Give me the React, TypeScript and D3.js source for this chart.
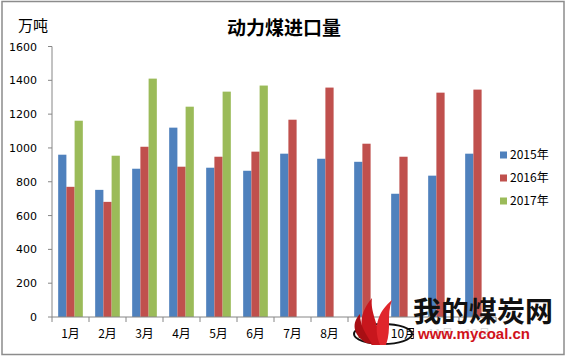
import React, { useEffect } from "react";
import * as d3 from "d3";

const months = ["1月", "2月", "3月", "4月", "5月", "6月", "7月", "8月", "9月", "10月", "11月", "12月"];
const seriesNames = ["2015年", "2016年", "2017年"];
const v2015 = [960, 752, 877, 1120, 883, 865, 966, 936, 918, 729, 836, 966];
const v2016 = [770, 681, 1007, 889, 948, 978, 1167, 1357, 1025, 948, 1327, 1345];
const v2017: (number | null)[] = [1161, 954, 1410, 1244, 1333, 1369, null, null, null, null, null, null];
const yTicks = [0, 200, 400, 600, 800, 1000, 1200, 1400, 1600];
const colors = ["#4F81BD", "#C0504D", "#9BBB59"];

const W = 566;
const H = 357;

export default function App() {
  useEffect(() => {
    document.body.style.margin = "0";
  }, []);

  const x = d3.scaleBand<string>().domain(months).range([52, 496]).paddingInner(0).paddingOuter(0);
  const xSub = d3.scaleBand<string>().domain(seriesNames).range([0, x.bandwidth()]).paddingInner(0).paddingOuter(0.75);
  const y = d3.scaleLinear().domain([0, 1600]).range([317, 46.5]);
  const data = [v2015, v2016, v2017];
  const axisColor = "#868686";
  const numFont = "'DejaVu Sans', Verdana, sans-serif";
  const cjkFont = "'Noto Sans CJK SC', sans-serif";

  const legendY = [155, 178, 201];

  return (
    <svg width={W} height={H} style={{ display: "block", background: "#fff" }}>
      <rect x={2} y={1.5} width={562} height={353} fill="#fff" stroke="#8c8c8c" strokeWidth={1.5} />
      <text x={284} y={35} textAnchor="middle" fontFamily={cjkFont} fontSize={19} fontWeight={700} fill="#000">
        动力煤进口量
      </text>
      <text x={18} y={31} fontFamily={cjkFont} fontSize={15} fill="#000">
        万吨
      </text>

      {data.map((vals, si) =>
        vals.map((v, i) =>
          v == null ? null : (
            <rect
              key={`${si}-${i}`}
              x={(x(months[i]) as number) + (xSub(seriesNames[si]) as number)}
              y={y(v)}
              width={xSub.bandwidth()}
              height={y(0) - y(v)}
              fill={colors[si]}
            />
          )
        )
      )}

      {/* y axis */}
      <line x1={52} x2={52} y1={y(1600)} y2={y(0)} stroke={axisColor} strokeWidth={1} />
      {yTicks.map((t) => (
        <g key={t}>
          <line x1={48} x2={52} y1={y(t)} y2={y(t)} stroke={axisColor} strokeWidth={1} />
          <text x={37} y={y(t) + 4} textAnchor="end" fontFamily={numFont} fontSize={11} fill="#000">
            {t}
          </text>
        </g>
      ))}

      {/* x axis */}
      <line x1={52} x2={496} y1={y(0)} y2={y(0)} stroke={axisColor} strokeWidth={1} />
      {months.map((m) => (
        <line key={"t" + m} x1={x(m) as number} x2={x(m) as number} y1={y(0)} y2={y(0) + 5} stroke={axisColor} />
      ))}
      <line x1={496} x2={496} y1={y(0)} y2={y(0) + 5} stroke={axisColor} />
      {months.map((m) => (
        <text
          key={"l" + m}
          x={(x(m) as number) + x.bandwidth() / 2}
          y={338}
          textAnchor="middle"
          fontFamily={cjkFont}
          fontSize={12}
          fill="#000"
        >
          {m}
        </text>
      ))}

      {/* legend */}
      {seriesNames.map((s, i) => (
        <g key={s}>
          <rect x={500} y={legendY[i] - 3.5} width={7} height={7} fill={colors[i]} />
          <text x={510} y={legendY[i] + 4} fontFamily={cjkFont} fontSize={12} fill="#000">
            {s}
          </text>
        </g>
      ))}

      {/* watermark */}
      <g>
        <rect x={414} y={326} width={146} height={16} fill="#fff" opacity={0.85} />
        <ellipse cx={383} cy={334} rx={29} ry={10} fill="none" stroke="#111" strokeWidth={2} />
        <path d="M372,345 C356,330 360,312 372,298 C370,312 378,322 381,345 Z" fill="#c8161d" />
        <path d="M380,345 C372,325 380,310 392,300 C386,316 392,328 386,345 Z" fill="#e0262c" />
        <path d="M366,343 C352,334 352,322 360,314 C360,326 366,334 372,344 Z" fill="#a80f14" />
        <text x={413} y={322} fontFamily={cjkFont} fontSize={28} fontWeight={700} fill="#111">
          我的煤炭网
        </text>
        <text x={418} y={339} fontFamily="'Liberation Sans', Arial, sans-serif" fontSize={15} fontWeight={700} fill="#d0121b">
          www.mycoal.cn
        </text>
      </g>
    </svg>
  );
}
